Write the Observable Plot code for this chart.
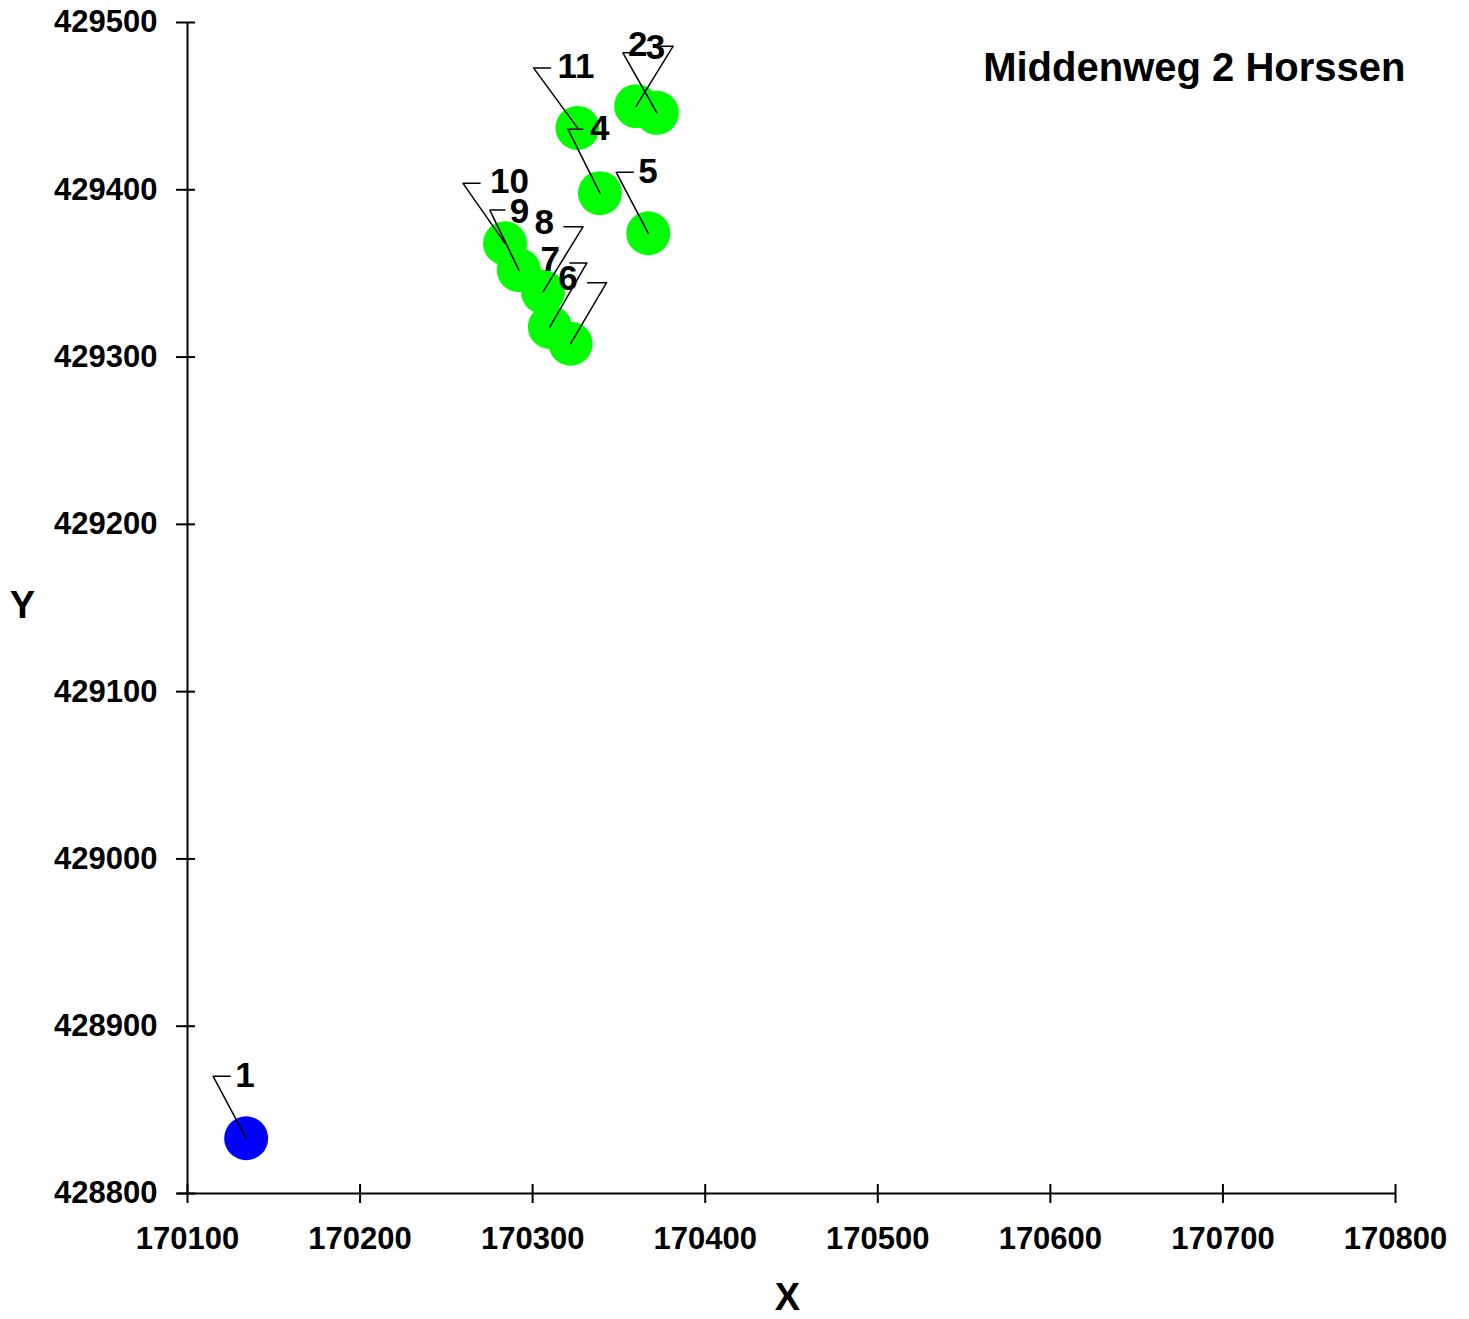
<!DOCTYPE html>
<html><head><meta charset="utf-8">
<script src="https://cdn.jsdelivr.net/npm/d3@7"></script>
<script src="https://cdn.jsdelivr.net/npm/@observablehq/plot@0.6"></script>
<style>body{margin:0;background:#fff} svg{display:block}</style>
</head><body><div id="chart"></div>
<script>
// ---- data ----
const ids = ["1","2","3","4","5","6","7","8","9","10","11"];
const xs  = [170134, 170372, 170360, 170339, 170367, 170322, 170310, 170306, 170292, 170284, 170326];
const ys  = [428833, 429446, 429450, 429398, 429374, 429308, 429318, 429339, 429352, 429368, 429437];
const kinds = ["blue","green","green","green","green","green","green","green","green","green","green"];
const xTicks = [170100,170200,170300,170400,170500,170600,170700,170800];
const yTicks = [428800,428900,429000,429100,429200,429300,429400,429500];
const title = "Middenweg 2 Horssen";
const xLabel = "X", yLabel = "Y";

// ---- label layout (pixel offsets from each point) ----
const labDx   = [-11,-29, 29,-10,-10,  7, 10, 11, -9,-15,-20];
const labDy   = [-62,-68,-58,-64,-61,-65,-67,-69,-58,-62,-61];
const labAnc  = ["start","start","end","start","start","end","end","end","start","start","start"];
const elbDx   = [-33,-34, 37,-32,-32, 36, 37, 40,-29,-42,-44];
const elbDy   = [-62,-60,-60,-64,-61,-61,-64,-65,-60,-60,-60];
const segLen  = [ 17, 15,-13, 15, 17,-19,-17,-19, 15, 17, 17];

const W = 1469, H = 1319;
const base = {
  width: W, height: H,
  marginLeft: 187, marginRight: 74, marginTop: 22, marginBottom: 126,
  x: {domain: [170100, 170800]},
  y: {domain: [428800, 429500]},
  style: {fontFamily: "'Liberation Sans', Arial, sans-serif", fontWeight: "bold", color: "black", background: "white", overflow: "visible"}
};

const pts = ids.map((id, i) => ({id, x: xs[i], y: ys[i], kind: kinds[i], i}));

// first pass to get scales
const probe = Plot.plot({...base, marks: [Plot.dot(pts, {x: "x", y: "y"})]});
const sx = probe.scale("x"), sy = probe.scale("y");
const fx = d3.scaleLinear().domain(sx.domain).range(sx.range);
const fy = d3.scaleLinear().domain(sy.domain).range(sy.range);
const offX = (v, d) => fx.invert(fx(v) + d);
const offY = (v, d) => fy.invert(fy(v) + d);

const leaders = [];
pts.forEach(p => {
  const i = p.i;
  const ex = offX(p.x, elbDx[i]), ey = offY(p.y, elbDy[i]);
  const hx = offX(p.x, elbDx[i] + segLen[i]);
  leaders.push({id: p.id, x: p.x, y: p.y});
  leaders.push({id: p.id, x: ex, y: ey});
  leaders.push({id: p.id, x: hx, y: ey});
});
const labels = pts.map(p => ({id: p.id, x: offX(p.x, labDx[p.i]), y: offY(p.y, labDy[p.i]), anchor: labAnc[p.i]}));

const chart = Plot.plot({
  ...base,
  marks: [
    Plot.dot(pts.filter(d => d.kind === "blue"), {x: "x", y: "y", r: 22, fill: "#0000ff", stroke: "none"}),
    Plot.dot(pts.filter(d => d.kind === "green"), {x: "x", y: "y", r: 22, fill: "#00ff00", stroke: "none"}),
    Plot.line(leaders, {x: "x", y: "y", z: "id", stroke: "black", strokeWidth: 1.5}),
    Plot.text(labels.filter(d => d.anchor === "start"), {x: "x", y: "y", text: "id", textAnchor: "start", fontSize: 35, fontWeight: "bold", fill: "black"}),
    Plot.text(labels.filter(d => d.anchor === "end"), {x: "x", y: "y", text: "id", textAnchor: "end", fontSize: 35, fontWeight: "bold", fill: "black"}),
    // axis lines
    Plot.ruleX([170100], {stroke: "black", strokeWidth: 2}),
    Plot.ruleY([428800], {x1: offX(170100, -10), x2: 170800, stroke: "black", strokeWidth: 2}),
    // inward tick parts
    Plot.ruleY(yTicks, {y: d => d, x1: 170100, x2: offX(170100, 8), stroke: "black", strokeWidth: 2}),
    Plot.ruleX(xTicks, {x: d => d, y1: 428800, y2: offY(428800, -9), stroke: "black", strokeWidth: 2}),
    Plot.axisY({ticks: yTicks, tickSize: 11, tickPadding: 19, tickFormat: "d", label: null, fontSize: 31, strokeWidth: 2}),
    Plot.axisX({ticks: xTicks, tickSize: 10, tickPadding: 23, tickFormat: "d", label: null, fontSize: 31, strokeWidth: 2}),
    Plot.text([title], {frameAnchor: "top-right", textAnchor: "end", lineAnchor: "middle", dx: 10, dy: 46, fontSize: 40, fontWeight: "bold", fill: "black"}),
    Plot.text([yLabel], {frameAnchor: "left", textAnchor: "middle", lineAnchor: "middle", dx: -165, dy: -2, fontSize: 38, fontWeight: "bold", fill: "black"}),
    Plot.text([xLabel], {frameAnchor: "bottom", textAnchor: "middle", lineAnchor: "middle", dx: -4, dy: 104, fontSize: 38, fontWeight: "bold", fill: "black"})
  ]
});
document.getElementById("chart").appendChild(chart);
</script>
</body></html>
